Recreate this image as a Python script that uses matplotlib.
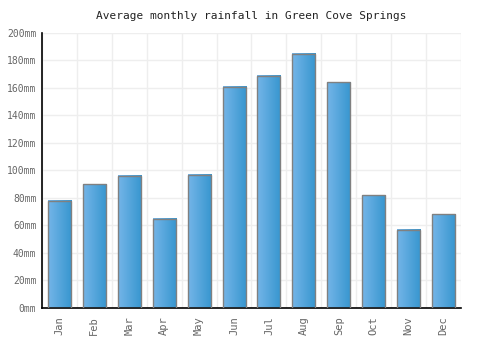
import numpy as np
import matplotlib
matplotlib.use("Agg")
import matplotlib.pyplot as plt
from matplotlib.colors import LinearSegmentedColormap

months = ["Jan", "Feb", "Mar", "Apr", "May", "Jun",
          "Jul", "Aug", "Sep", "Oct", "Nov", "Dec"]
rainfall = [78, 90, 96, 65, 97, 161, 169, 185, 164, 82, 57, 68]
yticks = [0, 20, 40, 60, 80, 100, 120, 140, 160, 180, 200]

plt.rcParams['font.family'] = ['DejaVu Sans Mono']

fig = plt.figure(figsize=(5, 3.5), dpi=100)
ax = fig.add_axes([0.084, 0.12, 0.838, 0.786])

x = np.arange(len(months))
width = 0.66
bars = ax.bar(x, rainfall, width=width, color='none', edgecolor='#808080',
              linewidth=1, zorder=3)

# horizontal gradient in each bar
cmap = LinearSegmentedColormap.from_list("rain", ["#74b5e8", "#3796cf"])
grad = np.linspace(0, 1, 64).reshape(1, -1)
for b in bars:
    x0, y0 = b.get_x(), b.get_y()
    ax.imshow(grad, cmap=cmap, aspect='auto', zorder=2,
              extent=(x0, x0 + b.get_width(), y0, y0 + b.get_height()))

ax.set_xlim(-0.5, len(months) - 0.5)
ax.set_ylim(0, 200)

ax.set_xticks(x)
ax.set_xticklabels(months, rotation=90, fontsize=7.5, color='#666666')
ax.set_xticks(np.arange(-0.5, len(months)), minor=True)
ax.set_yticks(yticks)
ax.set_yticklabels([f"{v}mm" for v in yticks], fontsize=7, color='#666666')
ax.tick_params(axis='x', which='both', length=0, pad=6)
ax.tick_params(axis='y', which='both', length=0, pad=4)

ax.grid(True, which='minor', axis='x', color='#eeeeee', linewidth=1, zorder=0)
ax.grid(True, which='major', axis='y', color='#eeeeee', linewidth=1, zorder=0)
ax.set_axisbelow(True)

for s in ['top', 'right']:
    ax.spines[s].set_visible(False)
for s in ['left', 'bottom']:
    ax.spines[s].set_color('black')
    ax.spines[s].set_linewidth(1.2)

ax.set_title("Average monthly rainfall in Green Cove Springs", fontsize=8,
             color='#222222', pad=10)

fig.savefig("out.png", dpi=100)
